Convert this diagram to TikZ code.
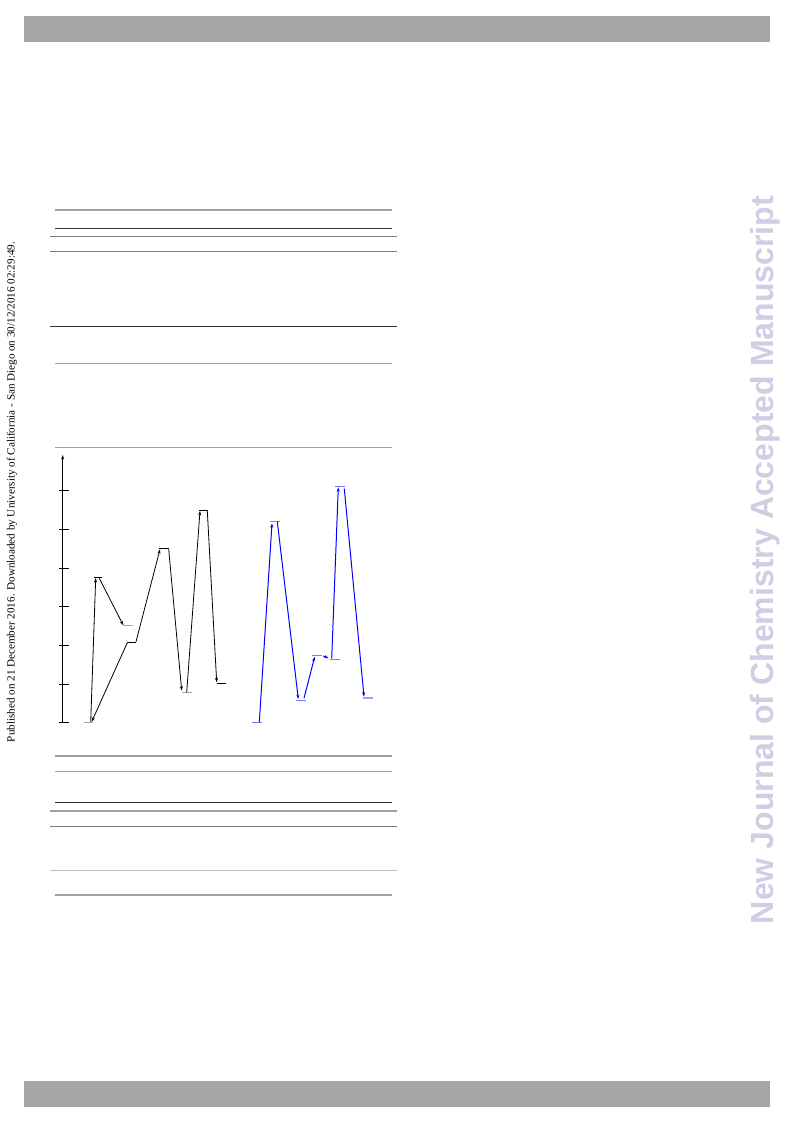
\documentclass[tikz,border=0pt]{standalone}
\usepackage{fontspec}
\setmainfont{Liberation Serif}
\newfontfamily\wmfont{Liberation Sans}
\usetikzlibrary{arrows.meta}
\definecolor{barg}{RGB}{166,166,166}
\definecolor{wmcol}{RGB}{206,206,228}
\definecolor{rgray}{RGB}{160,160,160}
\definecolor{rmid}{RGB}{125,125,125}
\definecolor{rlight}{RGB}{190,190,190}
\definecolor{rdark}{RGB}{50,50,50}
\definecolor{lvgray}{RGB}{165,165,165}
\definecolor{lvblue}{RGB}{120,120,255}
\tikzset{
  barbox/.style={fill=barg,draw=none},
  rulegray/.style={draw=rgray,line width=1.6pt},
  rulemid/.style={draw=rmid,line width=1.0pt},
  rulelight/.style={draw=rlight,line width=1.3pt},
  ruledark/.style={draw=rdark,line width=0.9pt},
  lvblack/.style={draw=black,line width=0.8pt},
  lvgr/.style={draw=lvgray,line width=1.4pt},
  lvbl/.style={draw=lvblue,line width=1pt},
  lvbllight/.style={draw=lvblue!70,line width=1.8pt},
  arr/.style={-{Stealth[length=4.5pt,width=3pt]},line width=0.8pt,draw=black},
  barr/.style={-{Stealth[length=4.5pt,width=3pt]},line width=1pt,draw=blue,color=blue},
  tick/.style={draw=black,line width=0.8pt},
}
\begin{document}
\begin{tikzpicture}[x=1pt,y=-1pt]
\useasboundingbox (0,0) rectangle (793,1123);
\fill[white] (0,0) rectangle (793,1123);
% header / footer bars
\fill[barbox] (24,16) rectangle (770,42.3);
\fill[barbox] (24,1081) rectangle (770,1106.7);
% side texts
\node[rotate=90,inner sep=0] (side) at (12,492) {\resizebox{500pt}{!}{Published on 21 December 2016. Downloaded by University of California - San Diego on 30/12/2016 02:29:49.}};
\node[rotate=90,inner sep=0,text=wmcol] (wm) at (765,560) {\resizebox{728pt}{!}{\wmfont\bfseries New Journal of Chemistry Accepted Manuscript}};
% table rules (top)
\draw[rulegray] (55,210) -- (391.7,210);
\draw[ruledark] (55,228) -- (391.7,228);
\draw[rulemid] (50,236.7) -- (396.7,236.7);
\draw[rulemid] (50,251.7) -- (396.7,251.7);
\draw[ruledark] (50,326) -- (396.7,326);
\draw[rulegray] (55,363.3) -- (391.7,363.3);
\draw[rulegray] (55,447.3) -- (391.7,447.3);
% table rules (bottom)
\draw[rulegray] (55,755.7) -- (391.7,755.7);
\draw[rulegray] (55,771.3) -- (391.7,771.3);
\draw[ruledark] (55,802.3) -- (391.7,802.3);
\draw[rulegray] (50,811) -- (396.7,811);
\draw[rulemid] (50,826.3) -- (396.7,826.3);
\draw[rulelight] (50,870.7) -- (396.7,870.7);
\draw[rulegray] (55,895) -- (391.7,895);
% axis
\coordinate (ax0) at (62.7,722.7);
\coordinate (ax1) at (62.7,455);
\draw[arr] (ax0) -- (ax1);
\foreach \yy in {490,529,568,606,645.5,684,722.7}{
  \draw[tick] (58.5,\yy) -- (69,\yy);
}
% black levels
\draw[lvgr]    (84.3,722.7) coordinate (Al) -- (93.3,722.7) coordinate (Ar);
\draw[lvblack] (94.3,577.5) coordinate (Bl) -- (101.7,577.5) coordinate (Br);
\draw[lvgr]    (123.3,625.7) coordinate (Cl) -- (132.7,625.7) coordinate (Cr);
\draw[lvblack] (126.7,642.7) coordinate (Dl) -- (136,642.7) coordinate (Dr);
\draw[lvblack] (159.3,548.3) coordinate (El) -- (168.7,548.3) coordinate (Er);
\draw[lvgr]    (181.7,692.3) coordinate (Fl) -- (191.7,692.3) coordinate (Fr);
\draw[lvblack] (198.7,510.3) coordinate (Gl) -- (207.7,510.3) coordinate (Gr);
\draw[lvblack] (216.7,683.3) coordinate (Hl) -- (226,683.3) coordinate (Hr);
% black arrows
\coordinate (a1s) at (90.7,722.2);  \coordinate (a1e) at (95.7,578);
\coordinate (a2s) at (99.3,578.3);  \coordinate (a2e) at (123.3,625.3);
\coordinate (a3s) at (127.3,642.7); \coordinate (a3e) at (91.7,721.7);
\coordinate (a4s) at (136,641.7);   \coordinate (a4e) at (160,549.3);
\coordinate (a5s) at (168.7,549.3); \coordinate (a5e) at (181.7,690.7);
\coordinate (a6s) at (186.7,692.3); \coordinate (a6e) at (200,511);
\coordinate (a7s) at (207.3,511);   \coordinate (a7e) at (216.7,682.3);
\foreach \i in {1,...,7}{ \draw[arr] (a\i s) -- (a\i e); }
% blue levels
\draw[lvbl] (252.3,722.3) coordinate (al) -- (261.7,722.3) coordinate (ar);
\draw[lvbl] (270,521.3) coordinate (bl) -- (280,521.3) coordinate (br);
\draw[lvbl] (295.7,700) coordinate (cl) -- (305.7,700) coordinate (cr);
\draw[lvbl] (311.7,655.7) coordinate (dl) -- (321.7,655.7) coordinate (dr);
\draw[lvbl] (330,659.3) coordinate (el) -- (340,659.3) coordinate (er);
\draw[lvbl] (335,486.3) coordinate (fl) -- (345,486.3) coordinate (fr);
\draw[lvbllight] (363.3,697.7) coordinate (gl) -- (372.7,697.7) coordinate (gr);
% blue arrows
\coordinate (b1s) at (259.3,722.3); \coordinate (b1e) at (272,523.3);
\coordinate (b2s) at (277.3,521.7); \coordinate (b2e) at (298.3,699);
\coordinate (b3s) at (304,698.3);   \coordinate (b3e) at (314.7,656.7);
\coordinate (b4s) at (323.3,656);   \coordinate (b4e) at (328.6,658.2);
\coordinate (b5s) at (331.7,658.3); \coordinate (b5e) at (338.3,487.3);
\coordinate (b6s) at (344.3,488.7); \coordinate (b6e) at (364,696.7);
\foreach \i in {1,...,6}{ \draw[barr] (b\i s) -- (b\i e); }
\end{tikzpicture}
\end{document}
